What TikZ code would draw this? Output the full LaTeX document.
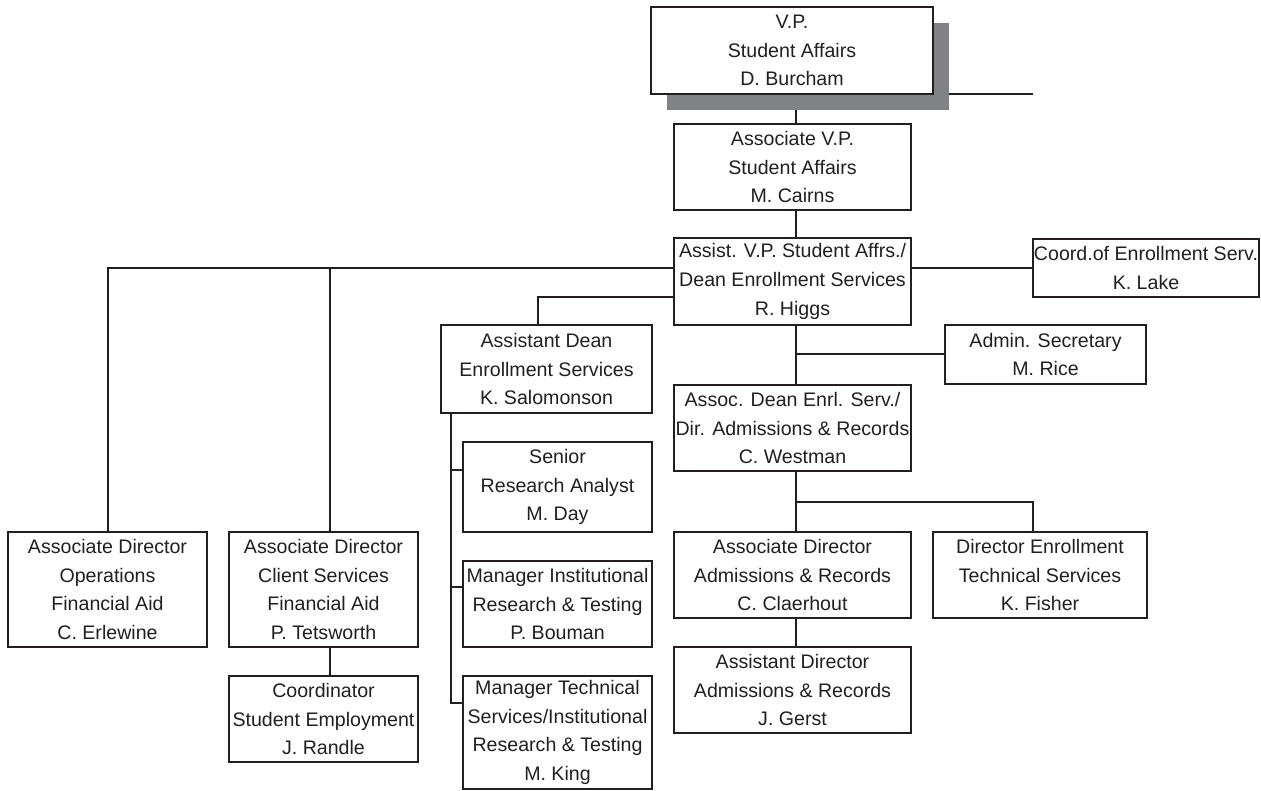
\documentclass[tikz,border=0pt]{standalone}
\usepackage{fontspec}
\setmainfont{Liberation Sans}
\definecolor{ink}{RGB}{35,31,32}
\definecolor{shade}{RGB}{128,130,133}
\begin{document}
\begin{tikzpicture}[x=1pt, y=-1pt,
  box/.style={draw=ink, fill=white, line width=2pt, text=ink, inner sep=0pt, align=center,
    font=\fontsize{19.6}{28.6}\selectfont},
  conn/.style={draw=ink, line width=2pt}]
\fill[white] (0,0) rectangle (1261,791);
\useasboundingbox (0,0) rectangle (1261,791);

% shadow and top box
\node[fill=shade, inner sep=0pt, minimum width=282pt, minimum height=87pt] (vpshadow) at (808,66.5) {};
\node[box, minimum width=282pt, minimum height=87pt] (vp) at (792,50.5) {V.P.\\Student Affairs\\D. Burcham};

\node[box, minimum width=237pt, minimum height=86pt] (avp) at (792.5,167) {Associate V.P.\\Student Affairs\\M. Cairns};
\node[box, minimum width=237pt, minimum height=87pt] (asvp) at (792.5,281.5) {Assist. V.P. Student Affrs./\\Dean Enrollment Services\\R. Higgs};
\node[box, minimum width=226pt, minimum height=58pt] (coord) at (1146,268) {Coord.of Enrollment Serv.\\K. Lake};
\node[box, minimum width=201pt, minimum height=59pt] (admin) at (1045.5,354.5) {Admin. Secretary\\M. Rice};
\node[box, minimum width=211pt, minimum height=88pt] (adean) at (546.5,369) {Assistant Dean\\Enrollment Services\\K. Salomonson};
\node[box, minimum width=189pt, minimum height=90pt] (senior) at (557.5,487) {Senior\\Research Analyst\\M. Day};
\node[box, minimum width=189pt, minimum height=86pt] (mii) at (557.5,604) {Manager Institutional\\Research \& Testing\\P. Bouman};
\node[box, minimum width=189pt, minimum height=113pt] (mtech) at (557.5,732.5) {Manager Technical\\Services/Institutional\\Research \& Testing\\M. King};
\node[box, minimum width=237pt, minimum height=86pt] (assocdean) at (792.5,428) {Assoc. Dean Enrl. Serv./\\Dir. Admissions \& Records\\C. Westman};
\node[box, minimum width=237pt, minimum height=86pt] (claer) at (792.5,575) {Associate Director\\Admissions \& Records\\C. Claerhout};
\node[box, minimum width=214pt, minimum height=86pt] (fisher) at (1040,575) {Director Enrollment\\Technical Services\\K. Fisher};
\node[box, minimum width=237pt, minimum height=86pt] (gerst) at (792.5,690) {Assistant Director\\Admissions \& Records\\J. Gerst};
\node[box, minimum width=199pt, minimum height=115pt] (ops) at (107.5,589.5) {Associate Director\\Operations\\Financial Aid\\C. Erlewine};
\node[box, minimum width=189pt, minimum height=115pt] (client) at (323.5,589.5) {Associate Director\\Client Services\\Financial Aid\\P. Tetsworth};
\node[box, minimum width=189pt, minimum height=86pt] (coordse) at (323.5,719) {Coordinator\\Student Employment\\J. Randle};

% connectors
\coordinate (tx) at (796,0);
\coordinate (stray) at (1033,94);
\draw[conn] (vpshadow.east |- stray) -- (stray);
\draw[conn] (tx |- vpshadow.south) -- (tx |- avp.north);
\draw[conn] (tx |- avp.south) -- (tx |- asvp.north);

\coordinate (lbar) at ([yshift=13.5pt]asvp.west);
\draw[conn] (lbar) -| (ops.north);
\draw[conn] ([xshift=6.5pt]client.north) -- ([xshift=6.5pt]client.north |- lbar);
\draw[conn] ([xshift=6.5pt]client.south) -- ([xshift=6.5pt]coordse.north);
\draw[conn] ([yshift=13.5pt]asvp.east) -- (coord.west);
\draw[conn] ([yshift=-15.5pt]asvp.west) -| ([xshift=-8.5pt]adean.north);

\draw[conn] (tx |- asvp.south) -- (tx |- assocdean.north);
\draw[conn] (admin.west) -- (tx |- admin.west);

\coordinate (bar) at ([xshift=11pt]adean.south west);
\coordinate (b1) at ([yshift=-29pt]senior.north west);
\coordinate (b2) at ([yshift=-27pt]mii.north west);
\coordinate (b3) at ([yshift=-28pt]mtech.north west);
\draw[conn] (bar) |- (b3);
\draw[conn] (b1) -- (bar |- b1);
\draw[conn] (b2) -- (bar |- b2);

\coordinate (fk) at (1033,501.5);
\draw[conn] (tx |- assocdean.south) -- (tx |- claer.north);
\draw[conn] (tx |- fk) -| (fisher.north -| fk);
\draw[conn] (tx |- claer.south) -- (tx |- gerst.north);
\end{tikzpicture}
\end{document}
